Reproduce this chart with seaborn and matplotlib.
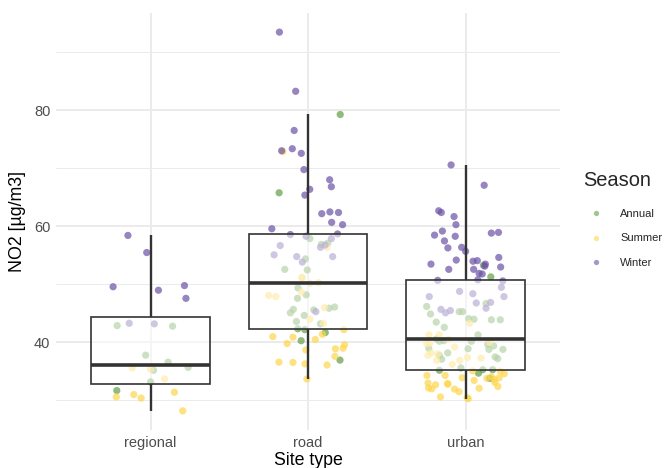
import numpy as np
import pandas as pd
import matplotlib
matplotlib.use("Agg")
import matplotlib.pyplot as plt
from matplotlib.lines import Line2D
from matplotlib.ticker import FixedLocator
import seaborn as sns

# ---------------- data ----------------
sites = ["regional", "road", "urban"]
seasons = ["Annual", "Summer", "Winter"]

regional_winter = [58.45, 55.5, 49.8, 49.6, 49.0, 47.6, 43.3, 43.2]
regional_annual = [42.9, 42.8, 37.8, 36.6, 35.7, 35.2, 33.2, 31.7]
regional_summer = [35.6, 35.4, 33.7, 31.4, 30.4, 30.6, 31.0, 28.2]

road_winter = [93.5, 83.3, 76.55, 73.4, 73.05, 72.6, 69.8, 68.05, 66.85, 66.4,
               65.4, 62.5, 62.4, 62.2, 60.7, 60.3, 59.6, 58.7, 58.6, 58.3,
               57.9, 56.8, 56.7, 56.4, 55.1, 54.8, 54.8, 53.85, 45.3]
road_annual = [79.3, 65.8, 57.9, 57.1, 56.9, 54.4, 52.6, 52.5, 49.4, 48.2,
               47.6, 46.1, 45.9, 45.7, 45.6, 45.1, 44.65, 43.6, 43.2, 42.35,
               42.2, 41.7, 40.3, 36.95]
road_summer = [72.9, 56.4, 51.2, 51.15, 50.3, 50.2, 48.7, 48.1, 47.9, 46.0,
               44.0, 43.3, 42.2, 41.4, 41.0, 40.9, 40.5, 39.8, 39.6, 39.0,
               38.9, 38.7, 37.6, 36.6, 36.55, 36.3, 36.1, 33.7]

urban_winter = [70.6, 67.1, 62.7, 62.4, 61.7, 60.3, 59.2, 58.97, 58.85, 58.5,
                58.3, 57.5, 56.4, 56.3, 55.7, 54.65, 54.2, 54.1, 54.0, 53.5,
                53.5, 53.15, 53.0, 52.6, 52.6, 51.9, 51.8, 50.8, 50.7, 50.6,
                49.5, 48.8, 48.4, 47.9, 47.9, 46.9, 46.8, 45.9, 45.7, 45.5, 45.1]
urban_annual = [53.3, 51.3, 46.7, 46.2, 45.3, 45.3, 44.9, 44.1, 44.0, 43.9,
                43.9, 43.5, 42.6, 41.3, 40.6, 40.3, 40.2, 40.2, 39.65, 39.4,
                39.0, 38.9, 38.8, 38.8, 38.2, 37.75, 37.5, 37.2, 37.1, 35.6,
                35.3, 35.3, 35.2, 34.7, 33.8]
urban_summer = [43.3, 41.3, 41.3, 40.5, 40.0, 39.8, 39.8, 39.2, 38.2, 38.0,
                37.75, 37.4, 37.3, 36.9, 36.9, 36.2, 35.1, 35.05, 34.6, 34.3,
                34.3, 34.1, 33.9, 33.9, 33.8, 33.6, 33.45, 33.1, 33.0, 32.9,
                32.8, 32.7, 32.4, 32.15, 32.1, 32.0, 31.95, 31.5, 30.6, 30.45, 30.3]

season_colors = {"Annual": "#629f45", "Summer": "#fed64c", "Winter": "#6b52a6"}

table = {
    ("regional", "Annual"): regional_annual,
    ("regional", "Summer"): regional_summer,
    ("regional", "Winter"): regional_winter,
    ("road", "Annual"): road_annual,
    ("road", "Summer"): road_summer,
    ("road", "Winter"): road_winter,
    ("urban", "Annual"): urban_annual,
    ("urban", "Summer"): urban_summer,
    ("urban", "Winter"): urban_winter,
}
rows = []
for (site, season), vals in table.items():
    for v in vals:
        rows.append({"Site": site, "Season": season, "NO2": v})
df = pd.DataFrame(rows)

# ---------------- style ----------------
sns.set_style("white")
plt.rcParams["font.family"] = ["Liberation Sans", "DejaVu Sans"]

fig = plt.figure(figsize=(6.7, 4.68), dpi=100)
ax = fig.add_axes([56 / 670, 1 - 430 / 468, 504 / 670, 417 / 468])

np.random.seed(7)
sns.stripplot(data=df, x="Site", y="NO2", hue="Season", order=sites,
              hue_order=seasons, palette=season_colors, jitter=0.25,
              size=5.2, alpha=0.7, linewidth=0, legend=False, zorder=2, ax=ax)

sns.boxplot(data=df, x="Site", y="NO2", order=sites, width=0.75,
            showfliers=False, showcaps=False, color="white",
            linecolor="#333333", linewidth=1.2,
            medianprops=dict(linewidth=2.6, color="#333333"),
            whiskerprops=dict(linewidth=1.7, color="#333333"),
            zorder=3, ax=ax)
for p in ax.patches:
    p.set_facecolor((1, 1, 1, 0.55))
    p.set_edgecolor("#333333")
    p.set_zorder(3)

# axes
ax.set_xlim(-0.6, 2.6)
ax.set_ylim(24.9, 96.8)
ax.yaxis.set_major_locator(FixedLocator([40, 60, 80]))
ax.yaxis.set_minor_locator(FixedLocator([30, 50, 70, 90]))
ax.set_axisbelow(True)
ax.grid(which="major", axis="both", color="#ebebeb", linewidth=1.4, zorder=0)
ax.grid(which="minor", axis="y", color="#ebebeb", linewidth=0.7, zorder=0)
for s in ax.spines.values():
    s.set_visible(False)
ax.tick_params(which="both", length=0, labelsize=10.5, labelcolor="#4d4d4d", pad=4)

ax.set_xlabel("Site type", fontsize=12.8, color="black", labelpad=2)
ax.set_ylabel("NO2 [µg/m3]", fontsize=12.8, color="black", labelpad=6)

# legend
handles = [Line2D([], [], marker="o", linestyle="", markersize=3.8,
                  markerfacecolor=season_colors[s], markeredgewidth=0,
                  alpha=0.6) for s in seasons]
leg = fig.legend(handles, seasons, title="Season", loc="upper left",
                 bbox_to_anchor=(583 / 670, 1 - 171 / 468), frameon=False,
                 fontsize=8, title_fontsize=14.4, alignment="left",
                 handlelength=2.3, handletextpad=1.05, labelspacing=1.32,
                 borderpad=0, borderaxespad=0)
leg._legend_box.sep += 3

fig.savefig("out.png", dpi=100)
